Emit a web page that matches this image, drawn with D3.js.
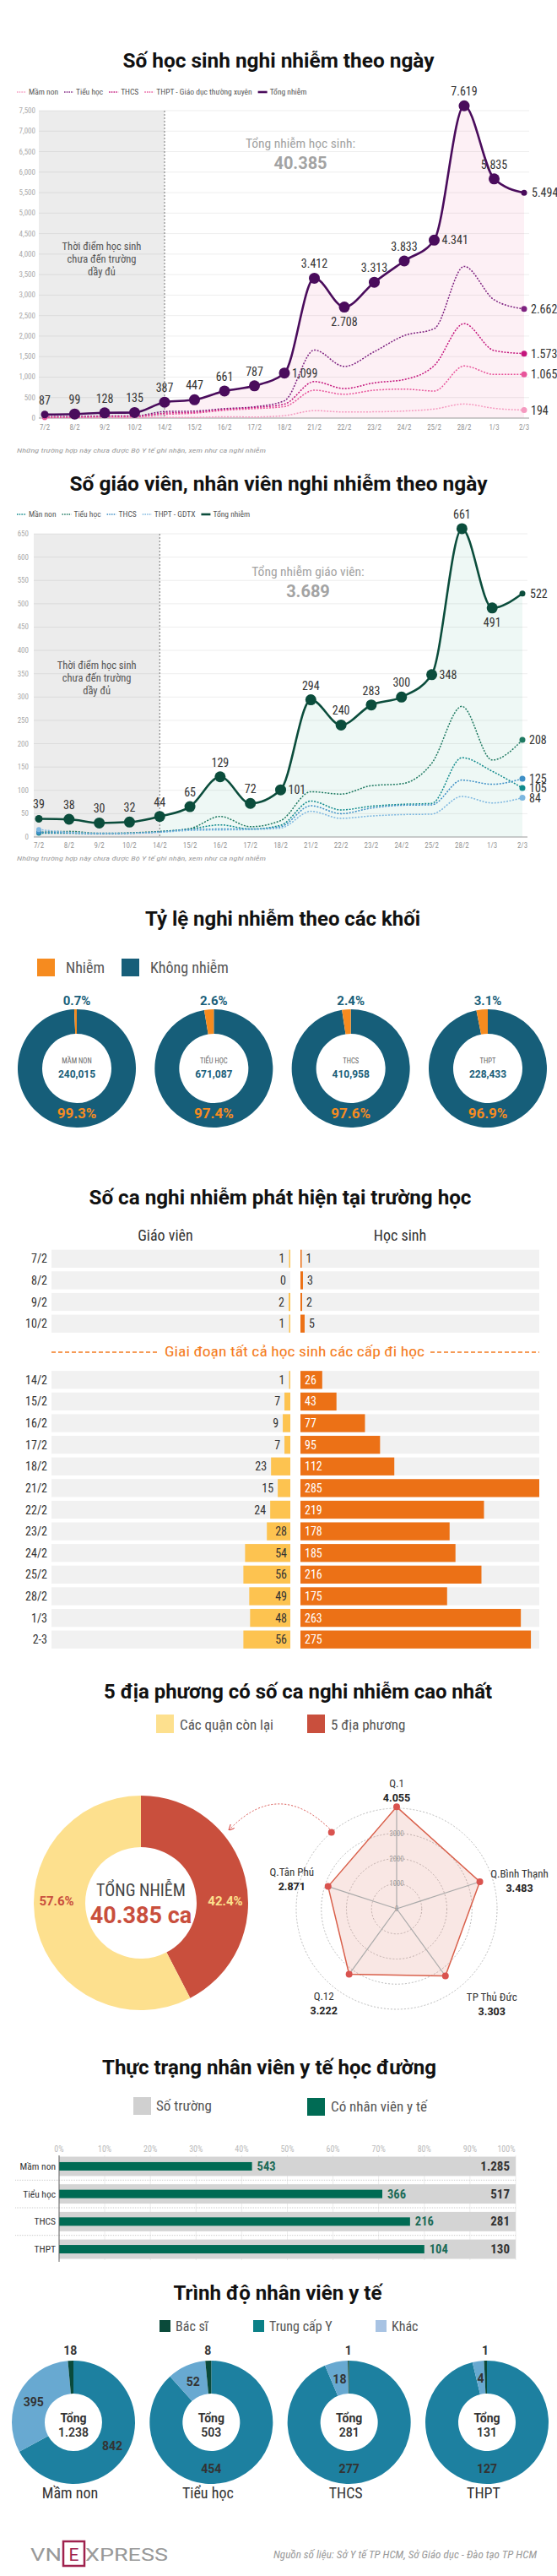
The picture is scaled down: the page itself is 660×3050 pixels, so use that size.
<!DOCTYPE html>
<html><head><meta charset="utf-8">
<script src="https://cdn.jsdelivr.net/npm/d3@7"></script>
<style>html,body{margin:0;padding:0;background:#fff}svg{display:block}</style>
</head><body>
<script>
// ================= DATA =================
const dates = ["7/2","8/2","9/2","10/2","14/2","15/2","16/2","17/2","18/2","21/2","22/2","23/2","24/2","25/2","28/2","1/3","2/3"];
// Students (chart 1)
const stuTotal   = [87,99,128,135,387,447,661,787,1099,3412,2708,3313,3833,4341,7619,5835,5494];
const stuTotalLabels = ["87","99","128","135","387","447","661","787","1,099","3.412","2.708","3.313","3.833","4.341","7.619","5.835","5.494"];
const stuMamNon  = [7,9,10,11,17,17,31,27,59,182,148,153,172,221,343,238,194];
const stuTieuHoc = [35,40,50,52,160,170,230,275,420,1660,1260,1620,2013,2180,3700,2885,2662];
const stuTHCS    = [25,28,38,40,120,140,210,255,340,890,720,860,941,1280,2305,1647,1573];
const stuTHPT    = [20,22,30,32,90,120,190,230,280,680,580,680,707,660,1271,1065,1065];
const stuSeriesNames = ["Mầm non","Tiểu học","THCS","THPT - Giáo dục thường xuyên"];
const stuEndLabels = ["194","2.662","1.573","1.065"];
// Teachers (chart 2)
const tchTotal   = [39,38,30,32,44,65,129,72,101,294,240,283,300,348,661,491,522];
const tchTotalLabels = ["39","38","30","32","44","65","129","72","101","294","240","283","300","348","661","491","522"];
const tchMamNon  = [8,8,7,8,11,17,26,17,25,77,58,66,70,72,170,141,105];
const tchTieuHoc = [10,12,8,9,12,18,44,22,35,97,92,110,114,158,280,165,208];
const tchTHCS    = [10,9,7,8,11,16,17,17,22,67,50,62,68,69,122,113,125];
const tchTHPT    = [16,10,8,8,10,14,15,16,19,55,40,45,48,49,87,73,84];
const tchSeriesNames = ["Mần non","Tiểu học","THCS","THPT - GDTX"];
const tchEndLabels = ["105","208","125","84"];
// Infection ratio per grade
const grades = ["MẦM NON","TIỂU HỌC","THCS","THPT"];
const gradeStudents = [240015,671087,410958,228433];
const gradeInfectedPct = [0.7,2.6,2.4,3.1];
const gradeHealthyPct = [99.3,97.4,97.6,96.9];
// Cases at schools
const barDates1 = ["7/2","8/2","9/2","10/2"];
const barTeach1 = [1,0,2,1];
const barStud1  = [1,3,2,5];
const barDates2 = ["14/2","15/2","16/2","17/2","18/2","21/2","22/2","23/2","24/2","25/2","28/2","1/3","2-3"];
const barTeach2 = [1,7,9,7,23,15,24,28,54,56,49,48,56];
const barStud2  = [26,43,77,95,112,285,219,178,185,216,175,263,275];
// Top 5 districts
const shareNames = ["5 địa phương","Các quận còn lại"];
const shareValues = [42.4,57.6];
const districts = ["Q.1","Q.Bình Thạnh","TP Thủ Đức","Q.12","Q.Tân Phú"];
const districtCases = [4055,3483,3303,3222,2871];
const radarTicks = [0,1000,2000,3000];
// School medical staff
const medGrades = ["Mầm non","Tiểu học","THCS","THPT"];
const medSchools = [1285,517,281,130];
const medWithStaff = [543,366,216,104];
const pctTicks = [0,0.1,0.2,0.3,0.4,0.5,0.6,0.7,0.8,0.9,1];
// Qualification
const qualNames = ["Bác sĩ","Trung cấp Y","Khác"];
const qualBacSi = [18,8,1,1];
const qualTrungCap = [842,454,277,127];
const qualKhac = [395,52,18,4];
const qualTotal = [1238,503,281,131];

// ================= SETUP =================
const W=660,H=3050;
const FN="'Liberation Sans Narrow','Arial Narrow','Roboto Condensed','Roboto',sans-serif";
const FT="'Roboto','Open Sans',sans-serif";
const vi = d3.formatLocale({decimal:",",thousands:".",grouping:[3],currency:["",""]});
const fmtVi = vi.format(",");
const svg=d3.select("body").append("svg").attr("width",W).attr("height",H);
svg.append("rect").attr("width",W).attr("height",H).attr("fill","#fff");

function T(g,x,y,t,o={}){
  const e=g.append("text").attr("x",x).attr("y",y).text(t)
    .attr("font-family",o.f||FN).attr("font-size",o.s||12).attr("fill",o.c||"#333")
    .attr("text-anchor",o.a||"start");
  if(o.w) e.attr("font-weight",o.w);
  if(o.i) e.attr("font-style","italic");
  if(o.len) e.attr("textLength",o.len).attr("lengthAdjust","spacingAndGlyphs");
  return e;
}
function title(t,cx,cy,len){ T(svg,cx,cy+8,t,{f:FT,s:24,w:700,c:"#111",a:"middle",len:len}); }

// ================= LINE CHARTS =================
function lineChart(cfg){
  const g=svg.append("g");
  const x=d3.scalePoint().domain(dates).range([cfg.xr0,cfg.xr1]);
  const y=d3.scaleLinear().domain([0,cfg.ymax]).range([cfg.yb,cfg.yt]);
  const xi=(d,i)=>x(dates[i]);
  g.append("path").datum(cfg.total).attr("fill",cfg.areaColor)
    .attr("d",d3.area().x(xi).y0(y(0)).y1(d=>y(d)).curve(d3.curveMonotoneX));
  const xs=x("14/2");
  g.append("rect").attr("x",cfg.gx0).attr("y",y(cfg.ymax)).attr("width",xs-cfg.gx0)
    .attr("height",y(0)-y(cfg.ymax)).attr("fill","#ececec");
  const ticks=d3.range(0,cfg.ymax+1,cfg.step);
  g.selectAll(".gl").data(ticks).join("line").attr("x1",cfg.gx0).attr("x2",cfg.gx1)
    .attr("y1",d=>y(d)).attr("y2",d=>y(d)).attr("stroke",d=>d===0?"#9a9a9a":"rgba(0,0,0,0.07)").attr("stroke-width",1);
  ticks.forEach(d=>T(g,cfg.tx,y(d)+3,d3.format(",")(d),{s:9,c:"#aaa",a:"end"}));
  g.append("line").attr("x1",xs).attr("x2",xs).attr("y1",y(cfg.ymax)).attr("y2",y(0))
    .attr("stroke","#777").attr("stroke-dasharray","2,2");
  ["Thời điểm học sinh","chưa đến trường","dầy đủ"].forEach((t,i)=>
    T(g,(cfg.gx0+xs)/2,cfg.noteY+i*15,t,{s:12.5,c:"#555",a:"middle"}));
  // series
  const line=d3.line().x(xi).y(d=>y(d)).curve(d3.curveMonotoneX);
  cfg.series.forEach((s,k)=>{
    g.append("path").datum(s).attr("d",line).attr("fill","none").attr("stroke",cfg.colors[k])
      .attr("stroke-width",1.5).attr("stroke-dasharray","2,1.6");
    const n=s.length-1;
    g.append("circle").attr("cx",x(dates[n])).attr("cy",y(s[n])).attr("r",3.5).attr("fill",cfg.colors[k]);
    g.append("circle").attr("cx",x(dates[0])).attr("cy",y(s[0])).attr("r",3).attr("fill",cfg.colors[k]);
    T(g,x(dates[n])+8,y(s[n])+5,cfg.endLabels[k],{s:14,c:"#333"});
  });
  g.append("path").datum(cfg.total).attr("d",line).attr("fill","none").attr("stroke",cfg.totalColor).attr("stroke-width",2.6);
  cfg.total.forEach((v,i)=>{
    const last=i===cfg.total.length-1;
    g.append("circle").attr("cx",xi(v,i)).attr("cy",y(v)).attr("r",last?3.5:(i===0?4.5:6.5)).attr("fill",cfg.totalColor);
    const p=cfg.labelPos[i]; let lx=xi(v,i), ly=y(v)-12, a="middle";
    if(p==="b"){ly=y(v)+22;}
    if(p==="r"){lx=lx+9; ly=y(v)+5; a="start";}
    T(g,lx,ly,cfg.labels[i],{s:14,c:"#333",a:a});
  });
  dates.forEach(d=>T(g,x(d),cfg.xlabY,d,{s:9,c:"#999",a:"middle"}));
  T(g,cfg.bigX,cfg.bigY,cfg.bigLabel,{s:15.5,c:"#a3a3a3",a:"middle"});
  T(g,cfg.bigX,cfg.bigY+25,cfg.bigValue,{f:FT,s:20,w:700,c:"#a3a3a3",a:"middle"});
  // legend
  let lx=cfg.legX;
  const items=cfg.legNames.map((n,k)=>({n,c:cfg.colors[k],dot:true})).concat([{n:"Tổng nhiễm",c:cfg.totalColor,dot:false}]);
  items.forEach(it=>{
    g.append("line").attr("x1",lx).attr("x2",lx+11).attr("y1",cfg.legY-3).attr("y2",cfg.legY-3)
      .attr("stroke",it.c).attr("stroke-width",it.dot?1.5:2.6).attr("stroke-dasharray",it.dot?"1.5,1.2":null);
    const t=T(g,lx+14,cfg.legY,it.n,{s:9.5,c:"#555"});
    lx+=14+t.node().getComputedTextLength()+7;
  });
  T(g,cfg.legX,cfg.footY,"Những trường hợp này chưa được Bộ Y tế ghi nhận, xem như ca nghi nhiễm",{s:8,c:"#999",i:true,len:295});
}

title("Số học sinh nghi nhiễm theo ngày",330,72,369);
lineChart({xr0:53,xr1:621,yb:495,yt:131,ymax:7500,step:500,gx0:46,gx1:627,tx:42,xlabY:509,noteY:296,
  total:stuTotal,labels:stuTotalLabels,
  labelPos:["t","t","t","t","t","t","t","t","r","t","b","t","t","r","t","t","r"],
  series:[stuMamNon,stuTieuHoc,stuTHCS,stuTHPT],colors:["#f59ac0","#7e2280","#c4157c","#e8559b"],
  endLabels:stuEndLabels,legNames:stuSeriesNames,totalColor:"#4a0c5c",areaColor:"#fdf0f5",
  bigX:356,bigY:175,bigLabel:"Tổng nhiễm học sinh:",bigValue:"40.385",legX:20,legY:112,footY:536});

title("Số giáo viên, nhân viên nghi nhiễm theo ngày",330,573,495);
lineChart({xr0:46,xr1:619,yb:991,yt:632,ymax:650,step:50,gx0:40,gx1:625,tx:34,xlabY:1004,noteY:792,
  total:tchTotal,labels:tchTotalLabels,
  labelPos:["t","t","t","t","t","t","t","t","r","t","t","t","t","r","t","b","r"],
  series:[tchMamNon,tchTieuHoc,tchTHCS,tchTHPT],colors:["#0f8a8c","#1f7a62","#3d8fc6","#7db7e0"],
  endLabels:tchEndLabels,legNames:tchSeriesNames,totalColor:"#0b4d3c",areaColor:"#eef8f5",
  bigX:365,bigY:682,bigLabel:"Tổng nhiễm giáo viên:",bigValue:"3.689",legX:20,legY:612,footY:1019});

// ================= RATIO DONUTS =================
title("Tỷ lệ nghi nhiễm theo các khối",335,1088,326);
{
  const g=svg.append("g");
  g.append("rect").attr("x",44).attr("y",1135).attr("width",21).attr("height",21).attr("fill","#f68b1f");
  T(g,78,1152,"Nhiễm",{s:18,c:"#555"});
  g.append("rect").attr("x",144).attr("y",1135).attr("width",21).attr("height",21).attr("fill","#165e79");
  T(g,178,1152,"Không nhiễm",{s:18,c:"#555"});
  const cx=d3.scalePoint().domain(grades).range([91,578]);
  const arc=d3.arc().innerRadius(41).outerRadius(70);
  grades.forEach((gr,i)=>{
    const c=g.append("g").attr("transform",`translate(${cx(gr)},1265)`);
    const a=gradeInfectedPct[i]/100*2*Math.PI;
    c.append("path").attr("d",arc({startAngle:0,endAngle:2*Math.PI-a})).attr("fill","#165e79");
    c.append("path").attr("d",arc({startAngle:-a,endAngle:0})).attr("fill","#f68b1f");
    T(c,0,-75,gradeInfectedPct[i]+"%",{f:FT,s:15,w:700,c:"#1a5f7a",a:"middle"});
    T(c,0,59,gradeHealthyPct[i]+"%",{f:FT,s:17,w:700,c:"#f68b1f",a:"middle"});
    T(c,0,-6,gr,{s:8.5,c:"#666",a:"middle"});
    T(c,0,11,d3.format(",")(gradeStudents[i]),{f:FT,s:12,w:700,c:"#1a5f7a",a:"middle"});
  });
}

// ================= BAR CHART =================
title("Số ca nghi nhiễm phát hiện tại trường học",332,1418,453);
{
  const g=svg.append("g");
  T(g,196,1469,"Giáo viên",{s:18,c:"#333",a:"middle"});
  T(g,474,1469,"Học sinh",{s:18,c:"#333",a:"middle"});
  const bw=d3.scaleLinear().domain([0,285]).range([0,283]);
  const L0=61,L1=344,R0=356,R1=639;
  function group(ds,tv,sv,r0,r1){
    const y=d3.scaleBand().domain(ds).range([r0,r1]).paddingInner(0.17).paddingOuter(0.085);
    ds.forEach((d,i)=>{
      const yy=y(d),h=y.bandwidth(),cy=yy+h/2;
      g.append("rect").attr("x",L0).attr("y",yy).attr("width",L1-L0).attr("height",h).attr("fill","#f1f1f1");
      g.append("rect").attr("x",R0).attr("y",yy).attr("width",R1-R0).attr("height",h).attr("fill","#f1f1f1");
      const tw=Math.max(bw(tv[i]),tv[i]>0?1.5:0), sw=Math.max(bw(sv[i]),1.5);
      g.append("rect").attr("x",L1-tw).attr("y",yy).attr("width",tw).attr("height",h).attr("fill","#fdc350");
      g.append("rect").attr("x",R0).attr("y",yy).attr("width",sw).attr("height",h).attr("fill","#ec7116");
      T(g,56,cy+5,d,{s:14,c:"#333",a:"end"});
      if(tv[i]>=28) T(g,L1-4,cy+5,tv[i],{s:14,c:"#333",a:"end"});
      else T(g,L1-tw-5,cy+5,tv[i],{s:14,c:"#333",a:"end"});
      if(sv[i]>=26) T(g,R0+5,cy+5,sv[i],{s:14,c:"#fff"});
      else T(g,R0+sw+5,cy+5,sv[i],{s:14,c:"#333"});
    });
  }
  group(barDates1,barTeach1,barStud1,1477.5,1580);
  group(barDates2,barTeach2,barStud2,1621,1954);
  T(g,349,1606,"Giai đoạn tất cả học sinh các cấp đi học",{s:17,c:"#f47b20",a:"middle",len:308});
  g.append("line").attr("x1",L0).attr("x2",189).attr("y1",1601).attr("y2",1601).attr("stroke","#f47b20").attr("stroke-width",1.5).attr("stroke-dasharray","5,3");
  g.append("line").attr("x1",510).attr("x2",R1).attr("y1",1601).attr("y2",1601).attr("stroke","#f47b20").attr("stroke-width",1.5).attr("stroke-dasharray","5,3");
}

// ================= TOP 5 DISTRICTS =================
title("5 địa phương có số ca nghi nhiễm cao nhất",353,2003,460);
{
  const g=svg.append("g");
  g.append("rect").attr("x",185).attr("y",2030).attr("width",21).attr("height",22).attr("fill","#fde08e");
  T(g,213,2048,shareNames[1],{s:17,c:"#555"});
  g.append("rect").attr("x",364).attr("y",2030).attr("width",21).attr("height",22).attr("fill","#c94f3d");
  T(g,392,2048,shareNames[0],{s:17,c:"#555"});
  const cg=g.append("g").attr("transform","translate(167,2253)");
  const pie=d3.pie().sort(null).value(d=>d);
  const arcs=pie(shareValues);
  const arc=d3.arc().innerRadius(66).outerRadius(127);
  cg.selectAll("path").data(arcs).join("path").attr("d",arc).attr("fill",(d,i)=>i===0?"#c94f3d":"#fde08e");
  T(cg,100,3,shareValues[0]+"%",{f:FT,s:15,w:700,c:"#fde08e",a:"middle"});
  T(cg,-100,3,shareValues[1]+"%",{f:FT,s:15,w:700,c:"#c94f3d",a:"middle"});
  T(cg,0,-8,"TỔNG NHIỄM",{s:20,c:"#444",a:"middle"});
  T(cg,0,24,"40.385 ca",{f:FT,s:27,w:700,c:"#c94f3d",a:"middle"});
  // radar
  const rg=g.append("g").attr("transform","translate(470,2260)");
  const r=d3.scaleLinear().domain([0,4000]).range([0,119]);
  [1000,2000,3000,4000].forEach(v=>rg.append("circle").attr("r",r(v)).attr("fill","none").attr("stroke","#bbb").attr("stroke-dasharray","2,2"));
  const ang=i=>-Math.PI/2+i*2*Math.PI/5;
  const pts=districtCases.map((v,i)=>[Math.cos(ang(i))*r(v),Math.sin(ang(i))*r(v)]);
  rg.append("path").attr("d","M"+pts.map(p=>p.join(",")).join("L")+"Z").attr("fill","rgba(222,110,95,0.17)").attr("stroke","#d9604b").attr("stroke-width",1.5);
  pts.forEach(p=>rg.append("line").attr("x1",0).attr("y1",0).attr("x2",p[0]).attr("y2",p[1]).attr("stroke","#aaa").attr("stroke-width",1.2));
  radarTicks.forEach(v=>{ T(rg,0,-r(v)+3,v,{s:8.5,c:"#999",a:"middle"}); });
  pts.forEach(p=>rg.append("circle").attr("cx",p[0]).attr("cy",p[1]).attr("r",4).attr("fill","#d9534f"));
  const off=[[0,-27],[47,-9],[55,26],[-30,26],[-43,-17]];
  districts.forEach((d,i)=>{
    const p=pts[i];
    T(rg,p[0]+off[i][0],p[1]+off[i][1]+4,d,{s:13,c:"#333",a:"middle"});
    T(rg,p[0]+off[i][0],p[1]+off[i][1]+21,fmtVi(districtCases[i]),{f:FT,s:12.5,w:700,c:"#222",a:"middle"});
  });
  // arrow
  const defs=svg.append("defs");
  defs.append("marker").attr("id","ah").attr("viewBox","0 0 10 10").attr("refX",8).attr("refY",5)
    .attr("markerWidth",7).attr("markerHeight",7).attr("orient","auto")
    .append("path").attr("d","M0,0L10,5L0,10").attr("fill","none").attr("stroke","#d9534f").attr("stroke-width",1.6);
  const a0=[Math.cos(ang(4)+0.55)*r(4000),Math.sin(ang(4)+0.55)*r(4000)];
  g.append("circle").attr("cx",470+a0[0]).attr("cy",2260+a0[1]).attr("r",4).attr("fill","#d9534f");
  g.append("path").attr("d",`M${470+a0[0]-2},${2260+a0[1]-4} Q330,2106 272,2166`).attr("fill","none")
    .attr("stroke","#d9534f").attr("stroke-width",1).attr("stroke-dasharray","2,2").attr("marker-end","url(#ah)");
}

// ================= MEDICAL STAFF BARS =================
title("Thực trạng nhân viên y tế học đường",319,2448,396);
{
  const g=svg.append("g");
  g.append("rect").attr("x",158).attr("y",2483).attr("width",21).attr("height",21).attr("fill","#d0d0d0");
  T(g,185,2499,"Số trường",{s:17,c:"#555"});
  g.append("rect").attr("x",364).attr("y",2484).attr("width",21).attr("height",21).attr("fill","#006b54");
  T(g,392,2500,"Có nhân viên y tế",{s:17,c:"#555"});
  const x=d3.scaleLinear().domain([0,1]).range([70,611]);
  const y=d3.scaleBand().domain(medGrades).range([2548.6,2679.4]).paddingInner(0.3).paddingOuter(0.15);
  pctTicks.forEach((t,i)=>{
    g.append("line").attr("x1",x(t)).attr("x2",x(t)).attr("y1",2552).attr("y2",2676).attr("stroke","#ececec");
    const last=i===pctTicks.length-1;
    T(g,last?x(t)-11:x(t),2548,d3.format(".0%")(t),{s:10,c:"#bbb",a:"middle"});
  });
  medGrades.forEach((m,i)=>{
    const yy=y(m),h=y.bandwidth(),cy=yy+h/2;
    g.append("rect").attr("x",x(0)).attr("y",yy).attr("width",x(1)-x(0)).attr("height",h).attr("fill","#d4d4d4");
    const f=medWithStaff[i]/medSchools[i];
    g.append("rect").attr("x",x(0)).attr("y",cy-5).attr("width",x(f)-x(0)).attr("height",10).attr("fill","#006b54");
    T(g,x(f)+6,cy+5,medWithStaff[i],{s:14.5,w:700,c:"#1c6b58"});
    T(g,604,cy+5,fmtVi(medSchools[i]),{s:15,w:700,c:"#333",a:"end"});
    T(g,66,cy+4,m,{s:11.5,c:"#333",a:"end"});
    if(i<medGrades.length-1){
      const ys=yy+h+(y.step()-h)/2;
      g.append("line").attr("x1",18).attr("x2",611).attr("y1",ys).attr("y2",ys).attr("stroke","#ccc").attr("stroke-dasharray","1,1");
    }
  });
  g.append("line").attr("x1",70).attr("x2",70).attr("y1",2552).attr("y2",2678).attr("stroke","#666");
}

// ================= QUALIFICATION DONUTS =================
title("Trình độ nhân viên y tế",329,2715,247);
{
  const g=svg.append("g");
  const qcol=["#0a4a3a","#1d80a0","#68a9d1"];
  const legCol=["#0a4a3a","#0b8087","#a8c3e3"];
  const lxs=[189,300,445];
  qualNames.forEach((n,i)=>{
    g.append("rect").attr("x",lxs[i]).attr("y",2747).attr("width",13).attr("height",14).attr("fill",legCol[i]);
    T(g,lxs[i]+19,2760,n,{s:16,c:"#555"});
  });
  const cx=d3.scalePoint().domain(medGrades).range([87,577]);
  const arc=d3.arc().innerRadius(34).outerRadius(73);
  const pie=d3.pie().sort(null).value(d=>d);
  medGrades.forEach((m,i)=>{
    const c=g.append("g").attr("transform",`translate(${cx(m)},2868)`);
    const vals=[qualTrungCap[i],qualKhac[i],qualBacSi[i]];
    const cols=[qcol[1],qcol[2],qcol[0]];
    const arcs=pie(vals);
    c.selectAll("path").data(arcs).join("path").attr("d",arc).attr("fill",(d,k)=>cols[k]);
    // labels
    const tc=arcs[0], frac=vals[0]/d3.sum(vals);
    let p = frac>0.85 ? [0,53.5] : arc.centroid(tc);
    T(c,p[0],p[1]+6,vals[0],{f:FT,s:14,w:700,c:"#333",a:"middle"});
    const kc=arc.centroid(arcs[1]);
    T(c,kc[0],kc[1]+6,vals[1],{f:FT,s:14,w:700,c:"#333",a:"middle"});
    const ba=(arcs[2].startAngle+arcs[2].endAngle)/2;
    T(c,Math.sin(ba)*85,-Math.cos(ba)*85+5,vals[2],{f:FT,s:14,w:700,c:"#333",a:"middle"});
    T(c,0,0,"Tổng",{f:FT,s:14,w:700,c:"#333",a:"middle"});
    T(c,0,17,fmtVi(qualTotal[i]),{f:FT,s:14,w:600,c:"#333",a:"middle"});
    T(c,-4,90,m,{s:18,c:"#333",a:"middle"});
  });
}

// ================= FOOTER =================
{
  const g=svg.append("g");
  T(g,36,3032,"VN",{f:FT,s:21,c:"#999",len:37});
  g.append("rect").attr("x",75).attr("y",3009).attr("width",25).attr("height",29).attr("fill","none").attr("stroke","#9f224e").attr("stroke-width",2.5);
  T(g,87.5,3032,"E",{f:FT,s:21,c:"#9f224e",a:"middle"});
  T(g,101,3032,"XPRESS",{f:FT,s:21,c:"#999",len:98});
  T(g,636,3029,"Nguồn số liệu: Sở Y tế TP HCM, Sở Giáo dục -  Đào tạo TP HCM",{s:13,c:"#999",i:true,a:"end",len:312});
}
</script>
</body></html>
